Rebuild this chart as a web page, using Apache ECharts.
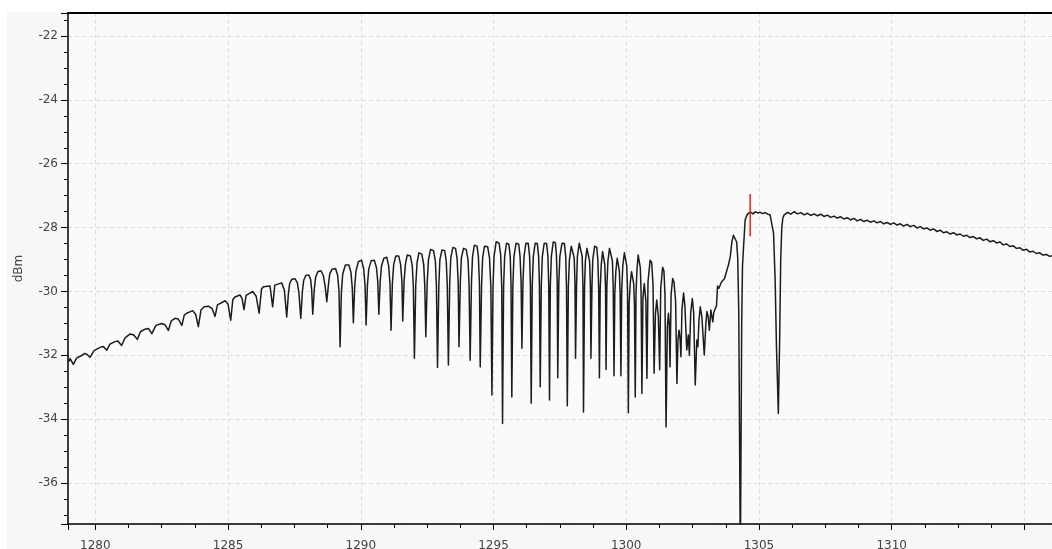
<!DOCTYPE html>
<html>
<head>
<meta charset="utf-8">
<script src="https://cdn.jsdelivr.net/npm/echarts@6/dist/echarts.min.js"></script>
<style>html,body{margin:0;padding:0;background:#fff;}#c{width:1052px;height:549px;}</style>
</head>
<body>
<div id="c"></div>
<script>
// x axis extent (nm) and y axis extent (dBm)
const xRange = [1278.97, 1316.04];
const yRange = [-37.28, -21.28];
const yTitle = 'dBm';

// Left slow slope with weak ripples  [nm, dBm]
const leftSlope = [
[1279.00,-32.20],[1279.05,-32.10],[1279.17,-32.28],[1279.30,-32.08],[1279.45,-32.02],[1279.61,-31.94],
[1279.70,-31.98],[1279.80,-32.06],[1279.95,-31.85],[1280.18,-31.75],[1280.30,-31.72],[1280.43,-31.84],
[1280.55,-31.65],[1280.74,-31.57],[1280.85,-31.55],[1280.99,-31.69],[1281.12,-31.45],[1281.31,-31.33],
[1281.45,-31.36],[1281.58,-31.50],[1281.70,-31.26],[1281.87,-31.18],[1282.00,-31.16],[1282.13,-31.32],
[1282.28,-31.06],[1282.50,-31.00],[1282.62,-31.04],[1282.75,-31.22],[1282.86,-30.92],[1283.00,-30.84],
[1283.12,-30.86],[1283.26,-31.06],[1283.35,-30.74],[1283.44,-30.68],[1283.67,-30.60],[1283.78,-30.72],
[1283.88,-31.10],[1283.98,-30.58],[1284.10,-30.48],[1284.26,-30.46],[1284.40,-30.54],[1284.51,-30.78],
[1284.60,-30.42],[1284.67,-30.37],[1284.89,-30.29],[1285.00,-30.40],[1285.10,-30.90],[1285.18,-30.25],
[1285.26,-30.17],[1285.45,-30.11],[1285.53,-30.22],[1285.60,-30.57],[1285.68,-30.12],[1285.76,-30.08],
[1285.93,-30.00],[1286.06,-30.15],[1286.17,-30.68],[1286.26,-29.92],[1286.33,-29.85],[1286.58,-29.83],
[1286.68,-30.48],[1286.76,-29.80],[1286.83,-29.75],[1287.02,-29.73],[1287.12,-29.95]
];

// Growing fringes 1287 - 1294.5 nm
const fringesLow = [
[1287.21,-30.80],[1287.27,-30.10],[1287.32,-29.75],[1287.40,-29.62],[1287.52,-29.60],[1287.61,-29.72],[1287.67,-30.05],
[1287.74,-30.84],[1287.80,-30.00],[1287.85,-29.65],[1287.93,-29.50],[1288.04,-29.48],[1288.11,-29.62],[1288.15,-29.95],
[1288.19,-30.71],[1288.25,-29.90],[1288.30,-29.55],[1288.38,-29.38],[1288.50,-29.35],[1288.59,-29.50],[1288.66,-29.85],
[1288.72,-30.32],[1288.78,-29.80],[1288.83,-29.45],[1288.92,-29.30],[1289.05,-29.28],[1289.13,-29.50],[1289.18,-30.00],
[1289.22,-31.73],[1289.27,-30.00],[1289.32,-29.45],[1289.42,-29.17],[1289.55,-29.17],[1289.63,-29.40],[1289.68,-29.90],
[1289.72,-30.98],[1289.77,-29.85],[1289.82,-29.35],[1289.91,-29.07],[1290.03,-29.02],[1290.11,-29.30],[1290.16,-29.80],
[1290.20,-31.05],[1290.25,-29.80],[1290.30,-29.30],[1290.39,-29.04],[1290.51,-29.02],[1290.59,-29.25],[1290.64,-29.70],
[1290.68,-30.71],[1290.73,-29.70],[1290.78,-29.20],[1290.87,-28.96],[1290.98,-28.93],[1291.05,-29.20],[1291.10,-29.75],
[1291.14,-31.21],[1291.19,-29.75],[1291.24,-29.15],[1291.32,-28.89],[1291.43,-28.89],[1291.50,-29.15],[1291.55,-29.70],
[1291.58,-30.92],[1291.63,-29.70],[1291.68,-29.15],[1291.75,-28.86],[1291.87,-28.89],[1291.94,-29.20],[1291.98,-29.85],
[1292.02,-32.09],[1292.07,-29.80],[1292.12,-29.10],[1292.19,-28.79],[1292.30,-28.83],[1292.37,-29.15],[1292.41,-29.80],
[1292.45,-31.42],[1292.50,-29.75],[1292.55,-29.00],[1292.63,-28.68],[1292.74,-28.72],[1292.81,-29.05],[1292.85,-29.85],
[1292.89,-32.38],[1292.94,-29.80],[1292.98,-29.00],[1293.06,-28.70],[1293.16,-28.72],[1293.22,-29.05],[1293.26,-29.85],
[1293.30,-32.30],[1293.35,-29.75],[1293.39,-28.95],[1293.47,-28.62],[1293.57,-28.65],[1293.63,-28.98],[1293.67,-29.75],
[1293.70,-31.73],[1293.75,-29.70],[1293.79,-28.95],[1293.87,-28.65],[1293.97,-28.68],[1294.04,-29.00],[1294.08,-29.80],
[1294.12,-32.15],[1294.17,-29.70],[1294.21,-28.90],[1294.28,-28.55],[1294.38,-28.58],[1294.43,-28.90],[1294.47,-29.75]
];

// Deep fringes 1294.5 - 1300.6 nm
const fringesMid = [
[1294.50,-32.36],[1294.55,-29.80],[1294.59,-28.95],[1294.66,-28.58],[1294.78,-28.60],[1294.85,-28.95],[1294.90,-29.85],
[1294.94,-33.24],[1294.98,-29.90],[1295.02,-28.90],[1295.10,-28.44],[1295.21,-28.49],[1295.27,-28.85],[1295.31,-29.85],
[1295.34,-34.13],[1295.38,-29.85],[1295.42,-28.90],[1295.49,-28.49],[1295.58,-28.52],[1295.63,-28.90],[1295.66,-29.80],
[1295.69,-33.30],[1295.73,-29.80],[1295.77,-28.90],[1295.85,-28.49],[1295.95,-28.52],[1296.00,-28.90],[1296.04,-29.70],
[1296.07,-31.78],[1296.11,-29.70],[1296.15,-28.90],[1296.22,-28.49],[1296.31,-28.50],[1296.36,-28.90],[1296.39,-29.80],
[1296.42,-33.50],[1296.46,-29.80],[1296.50,-28.90],[1296.57,-28.49],[1296.65,-28.50],[1296.70,-28.90],[1296.73,-29.80],
[1296.76,-32.98],[1296.80,-29.80],[1296.84,-28.90],[1296.91,-28.49],[1297.00,-28.50],[1297.05,-28.90],[1297.08,-29.80],
[1297.11,-33.40],[1297.14,-29.80],[1297.18,-28.90],[1297.25,-28.45],[1297.33,-28.47],[1297.37,-28.85],[1297.40,-29.70],
[1297.42,-32.70],[1297.46,-29.75],[1297.50,-28.90],[1297.58,-28.49],[1297.67,-28.50],[1297.72,-28.90],[1297.75,-29.85],
[1297.78,-33.58],[1297.82,-29.85],[1297.86,-29.00],[1297.93,-28.58],[1298.00,-28.60],[1298.04,-28.95],[1298.07,-29.75],
[1298.09,-32.09],[1298.13,-29.75],[1298.16,-28.90],[1298.23,-28.49],[1298.30,-28.52],[1298.34,-28.90],[1298.37,-29.85],
[1298.39,-33.77],[1298.43,-29.85],[1298.46,-29.05],[1298.52,-28.65],[1298.59,-28.68],[1298.62,-29.05],[1298.65,-29.80],
[1298.67,-32.09],[1298.71,-29.80],[1298.74,-29.00],[1298.81,-28.58],[1298.89,-28.62],[1298.93,-29.00],[1298.96,-29.85],
[1298.99,-32.70],[1299.02,-29.90],[1299.06,-29.15],[1299.11,-28.75],[1299.16,-28.78],[1299.19,-29.15],[1299.22,-29.85],
[1299.24,-32.44],[1299.27,-29.85],[1299.31,-29.05],[1299.37,-28.65],[1299.44,-28.68],[1299.48,-29.05],[1299.51,-29.90],
[1299.54,-32.64],[1299.57,-30.05],[1299.61,-29.35],[1299.66,-28.96],[1299.71,-29.00],[1299.74,-29.35],[1299.77,-30.05],
[1299.80,-32.64],[1299.83,-29.95],[1299.87,-29.20],[1299.93,-28.79],[1299.99,-28.82],[1300.02,-29.20],[1300.05,-30.00],
[1300.08,-33.80],[1300.11,-30.40],[1300.15,-29.75],[1300.20,-29.38],[1300.25,-29.42],[1300.28,-29.75],[1300.31,-30.40],
[1300.34,-33.30],[1300.37,-30.00],[1300.41,-29.25],[1300.45,-28.86],[1300.50,-28.90],[1300.53,-29.25],[1300.56,-30.00]
];

// Irregular fringes and rising edge 1300.6 - 1304.6 nm
const edgeRegion = [
[1300.59,-33.19],[1300.63,-30.20],[1300.68,-29.75],[1300.74,-30.30],
[1300.78,-32.72],[1300.82,-29.70],[1300.90,-29.02],[1300.96,-29.10],[1301.01,-29.80],
[1301.05,-32.56],[1301.10,-30.70],[1301.15,-30.27],[1301.21,-30.80],
[1301.26,-32.45],[1301.30,-29.90],[1301.37,-29.24],[1301.42,-29.35],[1301.46,-30.10],
[1301.50,-34.24],[1301.55,-31.10],[1301.59,-30.68],[1301.62,-31.00],
[1301.65,-32.36],[1301.69,-30.10],[1301.75,-29.59],[1301.80,-29.70],[1301.86,-30.30],
[1301.91,-32.88],[1301.95,-31.50],[1301.99,-31.21],[1302.03,-31.50],
[1302.06,-32.04],[1302.10,-30.55],[1302.16,-30.05],[1302.21,-30.45],
[1302.28,-31.83],[1302.34,-31.36],[1302.38,-32.00],[1302.43,-30.65],[1302.49,-30.22],[1302.54,-30.65],
[1302.60,-32.93],[1302.66,-31.52],[1302.70,-31.73],[1302.74,-30.90],[1302.79,-30.48],[1302.85,-30.80],
[1302.94,-31.99],[1303.00,-31.00],[1303.04,-30.63],[1303.09,-30.80],[1303.13,-31.21],
[1303.19,-30.58],[1303.26,-30.95],[1303.30,-30.65],[1303.35,-30.55],[1303.40,-30.45],
[1303.44,-29.83],[1303.49,-29.90],[1303.54,-29.95],[1303.59,-29.70],[1303.64,-29.64],
[1303.70,-29.60],[1303.76,-29.54],[1303.85,-29.17],[1303.92,-28.91],[1303.98,-28.44],
[1304.04,-28.24],[1304.10,-28.26],[1304.16,-28.45],[1304.20,-28.95],[1304.24,-30.68],
[1304.30,-38.50],[1304.35,-31.00],[1304.38,-29.20],[1304.42,-28.60],
[1304.48,-27.76],[1304.54,-27.62]
];

// Flat top, second notch and slow roll-off
const plateauTail = [
[1304.60,-27.55],[1304.70,-27.52],[1304.78,-27.57],[1304.86,-27.50],[1304.95,-27.54],[1305.05,-27.52],
[1305.14,-27.56],[1305.24,-27.53],[1305.33,-27.58],[1305.42,-27.60],[1305.49,-27.66],[1305.55,-28.17],
[1305.61,-29.64],[1305.66,-31.73],[1305.73,-33.82],[1305.78,-31.50],[1305.82,-29.00],[1305.86,-28.00],
[1305.90,-27.70],[1305.95,-27.60],[1306.08,-27.52],[1306.20,-27.58],[1306.33,-27.50],[1306.45,-27.57],
[1306.58,-27.53],[1306.70,-27.60],[1306.83,-27.55],[1306.95,-27.62],[1307.08,-27.57],[1307.20,-27.63],
[1307.33,-27.58],[1307.45,-27.65],[1307.58,-27.61],[1307.70,-27.68],[1307.83,-27.64],[1307.95,-27.70],
[1308.08,-27.66],[1308.20,-27.73],[1308.33,-27.69],[1308.45,-27.76],[1308.58,-27.71],[1308.70,-27.79],
[1308.83,-27.74],[1308.95,-27.81],[1309.08,-27.77],[1309.20,-27.83],[1309.33,-27.79],[1309.45,-27.85],
[1309.58,-27.81],[1309.70,-27.88],[1309.83,-27.84],[1309.95,-27.90],[1310.08,-27.85],[1310.20,-27.92],
[1310.33,-27.88],[1310.45,-27.95],[1310.58,-27.90],[1310.70,-27.97],[1310.83,-27.93],[1310.95,-28.01],
[1311.08,-27.97],[1311.20,-28.04],[1311.33,-28.01],[1311.45,-28.08],[1311.58,-28.04],[1311.70,-28.12],
[1311.83,-28.08],[1311.95,-28.16],[1312.08,-28.13],[1312.20,-28.20],[1312.33,-28.16],[1312.45,-28.23],
[1312.58,-28.20],[1312.70,-28.27],[1312.83,-28.24],[1312.95,-28.31],[1313.08,-28.28],[1313.20,-28.35],
[1313.33,-28.32],[1313.45,-28.40],[1313.58,-28.36],[1313.70,-28.44],[1313.83,-28.41],[1313.95,-28.48],
[1314.08,-28.45],[1314.20,-28.54],[1314.33,-28.51],[1314.45,-28.59],[1314.58,-28.57],[1314.70,-28.65],
[1314.83,-28.63],[1314.95,-28.71],[1315.08,-28.68],[1315.20,-28.76],[1315.33,-28.74],[1315.45,-28.81],
[1315.58,-28.79],[1315.70,-28.86],[1315.83,-28.84],[1315.95,-28.90],[1316.05,-28.88]
];

// Red marker
const markerNm = 1304.67;
const markerDbm = [-26.95, -28.27];

const trace = [].concat(leftSlope, fringesLow, fringesMid, edgeRegion, plateauTail);
const markerData = markerDbm.map(v => [markerNm, v]);

const chart = echarts.init(document.getElementById('c'), null, {renderer: 'canvas'});
const font = 'DejaVu Sans';
chart.setOption({
  animation: false,
  backgroundColor: '#ffffff',
  graphic: [{
    type: 'rect', z: -10, silent: true,
    shape: {x: 7, y: 12, width: 1045, height: 537},
    style: {fill: '#f7f7f7'}
  }],
  grid: {left: 68, right: 0, top: 13, bottom: 25, show: true, backgroundColor: '#fafafa', borderWidth: 0,
         containLabel: false, outerBoundsMode: 'none'},
  xAxis: [{
    type: 'value', min: xRange[0], max: xRange[1], splitNumber: 7,
    axisLine: {lineStyle: {color: '#000', width: 1.5}},
    axisTick: {show: true, length: 6, lineStyle: {color: '#000'}},
    minorTick: {show: true, splitNumber: 4, length: 4, lineStyle: {color: '#000'}},
    splitLine: {show: true, lineStyle: {color: '#dedede', type: [4, 3]}},
    axisLabel: {
      color: '#444', fontFamily: font, fontSize: 12, margin: 16,
      formatter: v => (Math.abs(v % 5) < 1e-6 && v < 1314) ? String(Math.round(v)) : ''
    }
  }, {
    type: 'value', position: 'top', min: xRange[0], max: xRange[1],
    axisLine: {show: true, onZero: false, lineStyle: {color: '#000', width: 2}},
    axisTick: {show: false}, axisLabel: {show: false}, splitLine: {show: false}
  }],
  yAxis: {
    type: 'value', min: yRange[0], max: yRange[1], splitNumber: 8,
    name: yTitle, nameLocation: 'middle', nameGap: 43, nameRotate: 90,
    nameTextStyle: {color: '#444', fontFamily: font, fontSize: 12},
    axisLine: {show: true, lineStyle: {color: '#000', width: 1.5}},
    axisTick: {show: true, length: 7, lineStyle: {color: '#000'}},
    minorTick: {show: true, splitNumber: 4, length: 4, lineStyle: {color: '#000'}},
    splitLine: {show: true, lineStyle: {color: '#dedede', type: [4, 3]}},
    axisLabel: {
      color: '#444', fontFamily: font, fontSize: 12, margin: 10,
      formatter: v => (Math.abs(v % 2) < 1e-6) ? String(Math.round(v)) : ''
    }
  },
  series: [{
    type: 'line', xAxisIndex: 0, data: trace, showSymbol: false, clip: true,
    lineStyle: {color: '#1c1c1c', width: 1.5, join: 'round'}
  }, {
    type: 'line', xAxisIndex: 0, data: markerData, showSymbol: false,
    lineStyle: {color: '#e8231c', width: 1.5}
  }]
});
</script>
</body>
</html>
